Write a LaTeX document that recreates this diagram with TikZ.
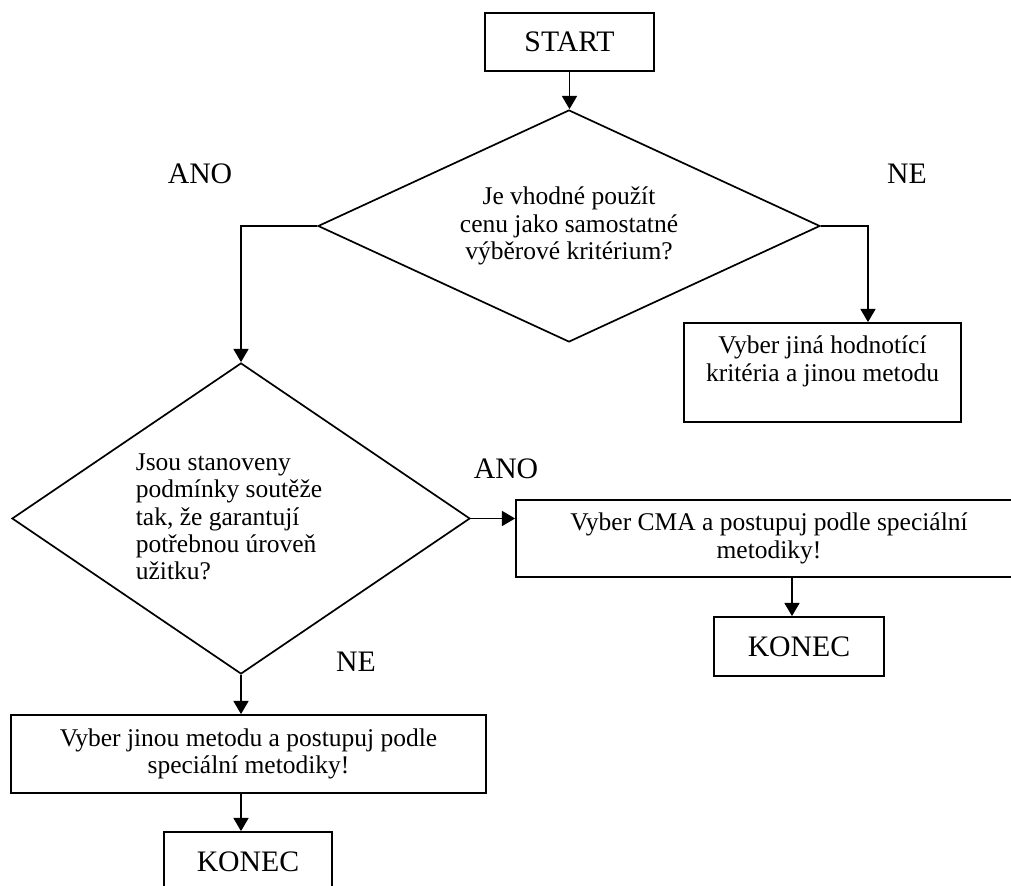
\documentclass[tikz,border=0pt]{standalone}
\usepackage{fontspec}
\setmainfont{Liberation Serif}
\usetikzlibrary{shapes.geometric,arrows.meta,calc,positioning}
\newcommand{\pxu}{0.4706pt}

\begin{document}
\begin{tikzpicture}[x=0.4706pt,y=-0.4706pt,
  box/.style={rectangle,draw,line width=0.8pt,align=center,inner sep=2pt,
    font=\fontsize{12}{12.9}\selectfont},
  endbox/.style={box,font=\fontsize{14}{16}\selectfont},
  decision/.style={diamond,draw,line width=0.8pt,inner sep=0pt,align=center,
    font=\fontsize{12}{12.9}\selectfont},
  answer/.style={font=\fontsize{14}{16}\selectfont},
  arr/.style={-{Triangle[length=6.2pt,width=7pt]},line width=0.9pt}]

  \useasboundingbox (0,0) rectangle (1011,886);
  \clip (0,0) rectangle (1011,886);

  \node[endbox,minimum width=169*\pxu,minimum height=58*\pxu] (start) at (569.5,42) {START};
  \node[decision,aspect=2.16,minimum width=502*\pxu,minimum height=232*\pxu] (d1) at (569,226)
    {Je vhodné použít\\cenu jako samostatné\\výběrové kritérium?};
  \node[decision,aspect=1.47,minimum width=458*\pxu,minimum height=311*\pxu] (d2) at (241,518.5) {};
  \node[align=left,inner sep=0pt,font=\fontsize{12}{12.9}\selectfont] (d2txt) at (229,517)
    {Jsou stanoveny\\podmínky soutěže\\tak, že garantují\\potřebnou úroveň\\užitku?};

  \node[box,minimum width=277*\pxu,minimum height=99*\pxu] (b1) at (822.5,372.5)
    {Vyber jiná hodnotící\\kritéria a jinou metodu\\\mbox{}};
  \node[box,minimum width=506*\pxu,minimum height=77*\pxu] (b2) at (769,538.5)
    {Vyber CMA a postupuj podle speciální\\metodiky!};
  \node[endbox,minimum width=170*\pxu,minimum height=59*\pxu] (k2) at (799,646.5) {KONEC};
  \node[box,minimum width=475*\pxu,minimum height=78*\pxu] (b3) at (248.5,754)
    {Vyber jinou metodu a postupuj podle\\speciální metodiky!};
  \node[endbox,minimum width=168*\pxu,minimum height=59*\pxu] (k1) at (248,861.5) {KONEC};

  \node[answer] (ano1) at (200,174) {ANO};
  \node[answer] (ne1) at (907,174) {NE};
  \node[answer] (ano2) at (506,469) {ANO};
  \node[answer] (ne2) at (356,662) {NE};

  \coordinate (a1) at ($(b1.north)+(45.5,0)$);
  \coordinate (a2) at ($(k2.north)+(-7,0)$);

  \draw[arr] (start.south) -- (start.south |- d1.north);
  \draw[arr] (d1.west) -| (d2.north);
  \draw[arr] (d1.east) -| (a1);
  \draw[arr] (d2.east) -- (d2.east -| b2.west);
  \draw[arr] (a2 |- b2.south) -- (a2);
  \draw[arr] (d2.south) -- (d2.south |- b3.north);
  \draw[arr] (b3.south -| d2.south) -- (k1.north -| d2.south);
\end{tikzpicture}
\end{document}
